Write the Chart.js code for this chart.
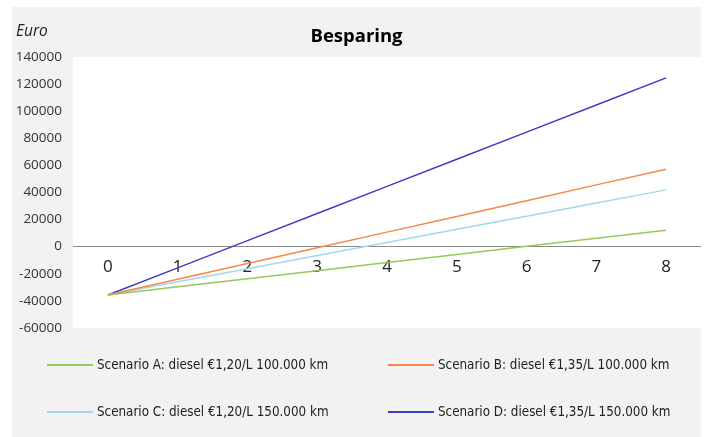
<!DOCTYPE html>
<html>
<head>
<meta charset="utf-8">
<title>Besparing</title>
<script src="https://cdn.jsdelivr.net/npm/chart.js@4.4.1/dist/chart.umd.min.js"></script>
<style>
  html, body { margin: 0; padding: 0; background: #fff; }
  #frame { position: absolute; left: 12px; top: 7px; width: 689px; height: 430px; background: #f2f2f2; }
  #besparing { position: absolute; left: 0; top: 0; }
  #legend { position: absolute; left: 35px; top: 334px; margin: 0; padding: 0; list-style: none;
            display: grid; grid-template-columns: 341px 300px; grid-auto-rows: 47px; }
  #legend li { display: flex; align-items: center; }
  #legend .swatch { display: inline-block; width: 46px; height: 0; margin-right: 4px; }
  #legend .label { font-family: "Liberation Sans Narrow", "DejaVu Sans Condensed", sans-serif;
                   font-size: 13.3px; color: #222; white-space: nowrap; }
</style>
</head>
<body>
<div id="frame">
  <canvas id="besparing" width="689" height="340"></canvas>
  <ul id="legend"></ul>
</div>
<script>
// jaren
const years = ['0', '1', '2', '3', '4', '5', '6', '7', '8'];

// besparing per scenario (euro)
const scenarioA = [-35700, -29700, -23750, -17800, -11800, -5800, 200, 6150, 12100];
const scenarioB = [-35700, -24100, -12500, -900, 10700, 22300, 33900, 45600, 57200];
const scenarioC = [-35700, -26000, -16300, -6600, 3100, 12800, 22500, 32200, 41900];
const scenarioD = [-35700, -15650, 4400, 24450, 44500, 64500, 84550, 104600, 124600];

const seriesNames = [
  'Scenario A: diesel €1,20/L 100.000 km',
  'Scenario B: diesel €1,35/L 100.000 km',
  'Scenario C: diesel €1,20/L 150.000 km',
  'Scenario D: diesel €1,35/L 150.000 km'
];
const seriesColors = ['#98c75a', '#f6864a', '#a3d8ec', '#3d3dc2'];

const yTicks = { min: -60000, max: 140000, step: 20000 };

// witte achtergrond voor het plotgebied
const plotBackground = {
  id: 'plotBackground',
  beforeDraw(chart) {
    const {ctx, chartArea} = chart;
    ctx.save();
    ctx.fillStyle = '#ffffff';
    ctx.fillRect(chartArea.left, chartArea.top, chartArea.right - chartArea.left, chartArea.bottom - chartArea.top);
    ctx.restore();
  }
};

// "Euro" label linksboven
const unitLabel = {
  id: 'unitLabel',
  afterDraw(chart) {
    const ctx = chart.ctx;
    ctx.save();
    ctx.font = "italic 15.5px 'Open Sans'";
    ctx.fillStyle = '#222';
    ctx.textBaseline = 'middle';
    ctx.fillText('Euro', 4, 24.5);
    ctx.restore();
  }
};

// legenda als html, twee kolommen
const htmlLegend = {
  id: 'htmlLegend',
  afterUpdate(chart) {
    const list = document.getElementById('legend');
    list.innerHTML = '';
    const items = chart.options.plugins.legend.labels.generateLabels(chart);
    items.forEach(item => {
      const li = document.createElement('li');
      const swatch = document.createElement('span');
      swatch.className = 'swatch';
      swatch.style.borderTop = '2px solid ' + item.strokeStyle;
      const text = document.createElement('span');
      text.className = 'label';
      text.textContent = item.text;
      li.appendChild(swatch);
      li.appendChild(text);
      list.appendChild(li);
    });
  }
};

function makeDataset(i, values) {
  return {
    label: seriesNames[i],
    data: values,
    borderColor: seriesColors[i],
    backgroundColor: seriesColors[i],
    borderWidth: 1.5,
    pointRadius: 0,
    tension: 0,
    fill: false
  };
}

new Chart(document.getElementById('besparing'), {
  type: 'line',
  data: {
    labels: years,
    datasets: [
      makeDataset(0, scenarioA),
      makeDataset(1, scenarioB),
      makeDataset(2, scenarioC),
      makeDataset(3, scenarioD)
    ]
  },
  options: {
    responsive: false,
    animation: false,
    layout: { padding: { top: 19, right: 0, bottom: 13, left: 0 } },
    plugins: {
      legend: { display: false },
      tooltip: { enabled: false },
      title: {
        display: true,
        text: 'Besparing',
        color: '#000',
        font: { family: "'Open Sans'", size: 18.5, weight: 'bold' },
        padding: { top: 0, bottom: 8.8 }
      }
    },
    scales: {
      x: {
        type: 'category',
        offset: true,
        position: { y: 0 },
        grid: { display: false, drawTicks: false },
        border: { display: true, color: '#8a8a8a', width: 1 },
        ticks: {
          color: '#222',
          padding: 10,
          font: { family: "'Open Sans'", size: 17 }
        }
      },
      y: {
        min: yTicks.min,
        max: yTicks.max,
        grid: { display: false, drawTicks: false },
        border: { display: false },
        afterFit(scale) { scale.width = 61; },
        ticks: {
          stepSize: yTicks.step,
          color: '#333',
          padding: 11,
          font: { family: "'Open Sans'", size: 13.5 },
          callback: value => String(value)
        }
      }
    }
  },
  plugins: [plotBackground, unitLabel, htmlLegend]
});
</script>
</body>
</html>
